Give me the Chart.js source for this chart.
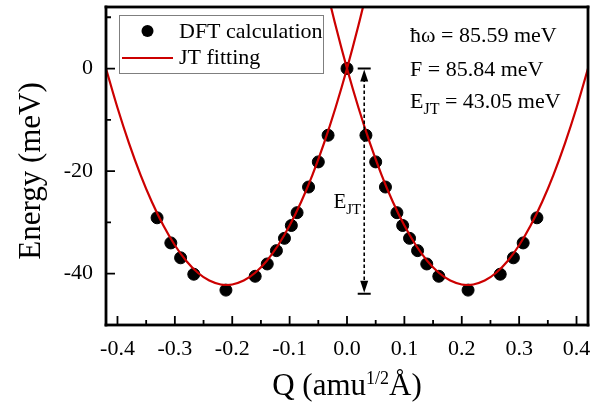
<!DOCTYPE html>
<html>
<head>
<meta charset="utf-8">
<script src="https://cdn.jsdelivr.net/npm/chart.js@4/dist/chart.umd.min.js"></script>
<style>
  html, body { margin: 0; padding: 0; background: #fff; }
</style>
</head>
<body>
<canvas id="chart" width="604" height="409"></canvas>
<script>
// DFT points (Q in amu^1/2 A, energy in meV)
const dftQ = [-0.331, -0.307, -0.290, -0.267, -0.211, -0.160, -0.139, -0.123, -0.109, -0.097, -0.087, -0.067, -0.050, -0.033,
  0, 0.033, 0.050, 0.067, 0.087, 0.097, 0.109, 0.123, 0.139, 0.160, 0.211, 0.267, 0.290, 0.307, 0.331];
const dftE = [-29.1, -34.0, -36.9, -40.1, -43.2, -40.5, -38.1, -35.5, -33.1, -30.6, -28.1, -23.1, -18.2, -13.0,
  0, -13.0, -18.2, -23.1, -28.1, -30.6, -33.1, -35.5, -38.1, -40.5, -43.2, -40.1, -36.9, -34.0, -29.1];

// JT fitting curves (left well and right well)
const fitLeftQ = [-0.42, -0.40, -0.38, -0.36, -0.34, -0.32, -0.30, -0.28, -0.26, -0.24, -0.22, -0.21, -0.20,
  -0.18, -0.16, -0.14, -0.12, -0.10, -0.08, -0.06, -0.04, -0.02, 0, 0.02, 0.04];
const fitLeftE = [0.0, -7.65, -14.54, -20.67, -26.03, -30.62, -34.45, -37.51, -39.81, -41.34, -42.10, -42.2, -42.10,
  -41.34, -39.81, -37.51, -34.45, -30.62, -26.03, -20.67, -14.54, -7.65, 0.0, 8.43, 17.61];
const fitRightQ = [-0.04, -0.02, 0, 0.02, 0.04, 0.06, 0.08, 0.10, 0.12, 0.14, 0.16, 0.18, 0.20,
  0.21, 0.22, 0.24, 0.26, 0.28, 0.30, 0.32, 0.34, 0.36, 0.38, 0.40, 0.42];
const fitRightE = [17.61, 8.43, 0.0, -7.65, -14.54, -20.67, -26.03, -30.62, -34.45, -37.51, -39.81, -41.34, -42.10,
  -42.2, -42.10, -41.34, -39.81, -37.51, -34.45, -30.62, -26.03, -20.67, -14.54, -7.65, 0.0];

const xTicks = [-0.4, -0.3, -0.2, -0.1, 0.0, 0.1, 0.2, 0.3, 0.4];
const xMinor = [-0.35, -0.25, -0.15, -0.05, 0.05, 0.15, 0.25, 0.35];
const yTicks = [0, -20, -40];
const yMinor = [10, -10, -30];

const ejt = { q: 0.03, top: 0, bottom: -43.9 };
const params = ["85.59 meV", "85.84 meV", "43.05 meV"];

const RED = "#cc0000";
const SERIF = "'Liberation Serif', 'Times New Roman', serif";

function pairs(xs, ys) {
  return xs.map((x, i) => ({ x: x, y: ys[i] }));
}

function subText(ctx, main, sub, x, y, size, align) {
  ctx.font = size + "px " + SERIF;
  const w1 = ctx.measureText(main).width;
  ctx.font = Math.round(size * 0.72) + "px " + SERIF;
  const w2 = ctx.measureText(sub).width;
  let x0 = x;
  if (align === "right") x0 = x - w1 - w2;
  ctx.textAlign = "left";
  ctx.font = size + "px " + SERIF;
  ctx.fillText(main, x0, y);
  ctx.font = Math.round(size * 0.72) + "px " + SERIF;
  ctx.fillText(sub, x0 + w1, y + size * 0.28);
  return x0 + w1 + w2;
}

const decor = {
  id: "decor",
  afterDraw(chart) {
    const ctx = chart.ctx;
    const a = chart.chartArea;
    const xs = chart.scales.x, ys = chart.scales.y;
    ctx.save();
    ctx.setLineDash([]);
    ctx.fillStyle = "#000";
    ctx.strokeStyle = "#000";

    // frame
    const fw = 2.8;
    ctx.fillRect(a.left - fw / 2, a.top - fw / 2, a.right - a.left + fw, fw);
    ctx.fillRect(a.left - fw / 2, a.bottom - fw / 2, a.right - a.left + fw, fw);
    ctx.fillRect(a.left - fw / 2, a.top - fw / 2, fw, a.bottom - a.top + fw);
    ctx.fillRect(a.right - fw / 2, a.top - fw / 2, fw, a.bottom - a.top + fw);

    // inward ticks
    ctx.lineWidth = 1.8;
    ctx.beginPath();
    xTicks.forEach(v => { const p = xs.getPixelForValue(v); ctx.moveTo(p, a.bottom); ctx.lineTo(p, a.bottom - 9); });
    xMinor.forEach(v => { const p = xs.getPixelForValue(v); ctx.moveTo(p, a.bottom); ctx.lineTo(p, a.bottom - 5); });
    yTicks.forEach(v => { const p = ys.getPixelForValue(v); ctx.moveTo(a.left, p); ctx.lineTo(a.left + 9, p); });
    yMinor.forEach(v => { const p = ys.getPixelForValue(v); ctx.moveTo(a.left, p); ctx.lineTo(a.left + 5, p); });
    ctx.stroke();

    // legend
    ctx.lineWidth = 1;
    ctx.strokeStyle = "#7f7f7f";
    ctx.strokeRect(119.5, 15.5, 204, 58);
    ctx.beginPath();
    ctx.arc(147.5, 31, 6, 0, Math.PI * 2);
    ctx.fill();
    ctx.strokeStyle = RED;
    ctx.lineWidth = 2.2;
    ctx.beginPath();
    ctx.moveTo(122, 58);
    ctx.lineTo(173, 58);
    ctx.stroke();
    ctx.font = "22px " + SERIF;
    ctx.textAlign = "left";
    ctx.textBaseline = "alphabetic";
    ctx.fillText("DFT calculation", 179, 38);
    ctx.fillText("JT fitting", 179, 64);

    // fit parameters
    ctx.fillText("\u0127\u03c9 = " + params[0], 410, 42);
    ctx.fillText("F = " + params[1], 410, 75.5);
    const ex = subText(ctx, "E", "JT", 410, 107.5, 22, "left");
    ctx.font = "22px " + SERIF;
    ctx.fillText(" = " + params[2], ex, 107.5);

    // E_JT arrow
    const ax = xs.getPixelForValue(ejt.q);
    const ay1 = ys.getPixelForValue(ejt.top);
    const ay2 = ys.getPixelForValue(ejt.bottom);
    ctx.strokeStyle = "#000";
    ctx.lineWidth = 1.6;
    ctx.setLineDash([3.5, 2.5]);
    ctx.beginPath();
    ctx.moveTo(ax, ay1 + 10);
    ctx.lineTo(ax, ay2 - 10);
    ctx.stroke();
    ctx.setLineDash([]);
    ctx.lineWidth = 2;
    ctx.beginPath();
    ctx.moveTo(ax - 6.5, ay1); ctx.lineTo(ax + 6.5, ay1);
    ctx.moveTo(ax - 6.5, ay2); ctx.lineTo(ax + 6.5, ay2);
    ctx.stroke();
    ctx.beginPath();
    ctx.moveTo(ax, ay1 + 1); ctx.lineTo(ax - 4, ay1 + 13); ctx.lineTo(ax + 4, ay1 + 13); ctx.closePath();
    ctx.moveTo(ax, ay2 - 1); ctx.lineTo(ax - 4, ay2 - 13); ctx.lineTo(ax + 4, ay2 - 13); ctx.closePath();
    ctx.fill();
    subText(ctx, "E", "JT", ax - 3, 208, 21, "right");

    // axis titles
    ctx.font = "31px " + SERIF;
    ctx.textAlign = "left";
    const xt1 = "Q (amu", xt2 = "1/2", xt3 = "\u00c5)";
    const w1 = ctx.measureText(xt1).width, w3 = ctx.measureText(xt3).width;
    ctx.font = "18px " + SERIF;
    const w2 = ctx.measureText(xt2).width;
    const tx = (a.left + a.right) / 2 - (w1 + w2 + w3) / 2;
    ctx.font = "31px " + SERIF;
    ctx.fillText(xt1, tx, 395);
    ctx.font = "18px " + SERIF;
    ctx.fillText(xt2, tx + w1, 384);
    ctx.font = "31px " + SERIF;
    ctx.fillText(xt3, tx + w1 + w2, 395);

    ctx.translate(40, 171);
    ctx.rotate(-Math.PI / 2);
    ctx.textAlign = "center";
    ctx.fillText("Energy (meV)", 0, 0);
    ctx.restore();
  }
};

new Chart(document.getElementById("chart"), {
  type: "scatter",
  data: {
    datasets: [
      {
        label: "JT fitting",
        data: pairs(fitLeftQ, fitLeftE),
        showLine: true,
        borderColor: RED,
        borderWidth: 2.2,
        pointRadius: 0,
        cubicInterpolationMode: "monotone",
        clip: 0,
        order: 0
      },
      {
        label: "JT fitting right",
        data: pairs(fitRightQ, fitRightE),
        showLine: true,
        borderColor: RED,
        borderWidth: 2.2,
        pointRadius: 0,
        cubicInterpolationMode: "monotone",
        clip: 0,
        order: 0
      },
      {
        label: "DFT calculation",
        data: pairs(dftQ, dftE),
        backgroundColor: "#000",
        borderColor: "#000",
        pointRadius: 6,
        order: 1
      }
    ]
  },
  options: {
    responsive: false,
    animation: false,
    devicePixelRatio: 1,
    layout: { padding: { top: 7, right: 16, left: 0, bottom: 0 } },
    plugins: { legend: { display: false }, tooltip: { enabled: false } },
    scales: {
      x: {
        type: "linear",
        min: -0.42,
        max: 0.42,
        grid: { display: false, drawTicks: false },
        border: { display: false },
        afterBuildTicks: s => { s.ticks = xTicks.map(v => ({ value: v })); },
        afterFit: s => { s.height = 84; s.paddingLeft = 0; s.paddingRight = 0; },
        ticks: {
          autoSkip: false,
          maxRotation: 0,
          padding: 11,
          color: "#000",
          font: { family: SERIF, size: 22 },
          callback: v => v.toFixed(1)
        }
      },
      y: {
        type: "linear",
        min: -50,
        max: 12,
        grid: { display: false, drawTicks: false },
        border: { display: false },
        afterBuildTicks: s => { s.ticks = yTicks.map(v => ({ value: v })); },
        afterFit: s => { s.width = 106; s.paddingTop = 0; s.paddingBottom = 0; },
        ticks: {
          autoSkip: false,
          padding: 13,
          color: "#000",
          font: { family: SERIF, size: 22 },
          callback: v => String(v)
        }
      }
    }
  },
  plugins: [decor]
});
</script>
</body>
</html>
